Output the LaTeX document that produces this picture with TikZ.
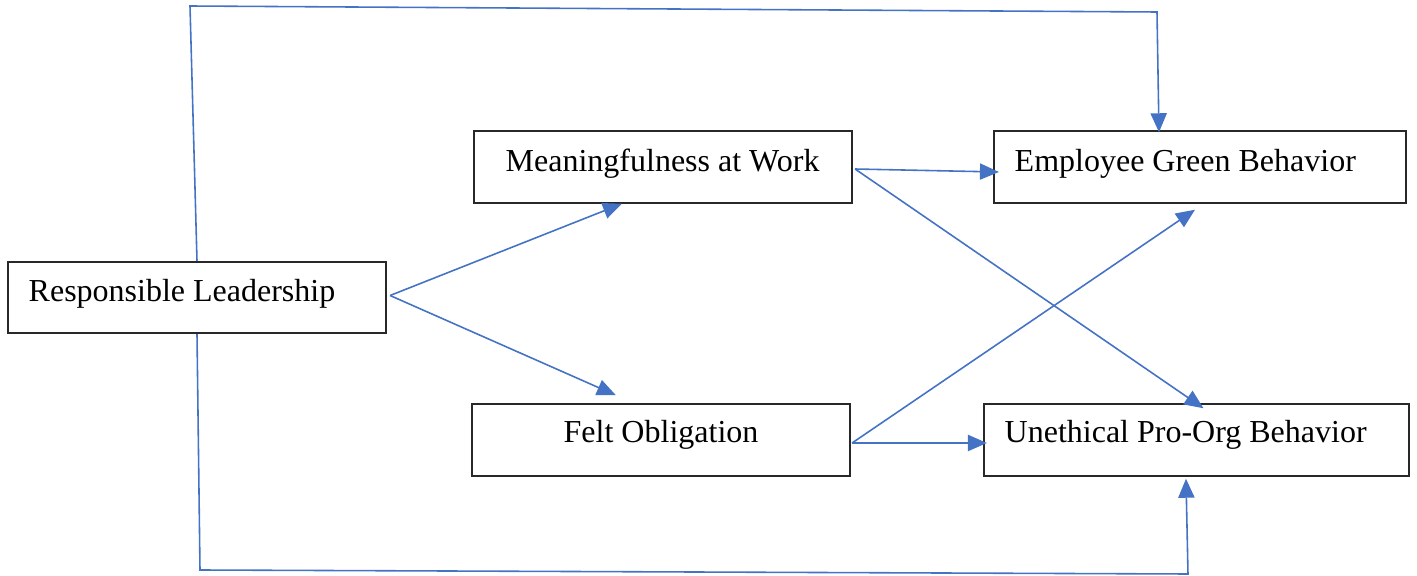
\documentclass[tikz,border=0pt]{standalone}
\usepackage{fontspec}
\setmainfont{Liberation Serif}
\usepackage{xcolor}
\usetikzlibrary{arrows.meta,calc}
\definecolor{linkblue}{RGB}{68,114,196}
\definecolor{boxgray}{RGB}{40,40,40}

\begin{document}
\begin{tikzpicture}[x=0.01cm,y=-0.01cm,
		varbox/.style={draw=boxgray,line width=0.55pt,inner sep=0pt,minimum height=0.715cm},
		varlabel/.style={anchor=base west,inner sep=0pt,font=\fontsize{9.1}{11}\selectfont},
		link/.style={draw=linkblue,line width=0.45pt},
		arrowlink/.style={link,-{Triangle[length=5.4pt,width=4.6pt]}}]
				\useasboundingbox (0,0) rectangle (1417,576);
				% boxes
				\node[varbox,minimum width=3.78cm] (rl) at (197,297.5) {};
				\node[varbox,minimum width=3.78cm] (mw) at (663,167) {};
				\node[varbox,minimum width=3.78cm] (fo) at (661,440) {};
				\node[varbox,minimum width=4.12cm] (egb) at (1200,167) {};
				\node[varbox,minimum width=4.25cm] (upb) at (1196.5,440) {};
				\node[varlabel] (rltext) at (28,302) {Responsible Leadership};
				\node[varlabel] (mwtext) at (505,172) {Meaningfulness at Work};
				\node[varlabel] (fotext) at (563,443) {Felt Obligation};
				\node[varlabel] (egbtext) at (1014,172) {Employee Green Behavior};
				\node[varlabel] (upbtext) at (1004,443) {Unethical Pro-Org Behavior};
				% direct paths round the outside
				\coordinate (topleft) at (190,6);
				\coordinate (topright) at (1157,12);
				\coordinate (botleft) at (200,570);
				\coordinate (botright) at (1188,574);
				\draw[arrowlink] (rl.north) -- (topleft) -- (topright) -- ($(topright |- egb.north)+(2,2)$);
				\draw[arrowlink] (rl.south) -- (botleft) -- (botright) -- ($(botright |- upb.south)+(-2,2)$);
				% mediators
				\coordinate (rlout) at ($(rl.east)+(3,-2)$);
				\draw[arrowlink] (rlout) -- ($(mw.south west)+(149,0)$);
				\draw[arrowlink] (rlout) -- ($(fo.north west)+(145,-8)$);
				\coordinate (mwout) at ($(mw.east)+(2,2)$);
				\draw[arrowlink] (mwout) -- ($(egb.west)+(6,5)$);
				\draw[arrowlink] (mwout) -- ($(upb.north)+(7,5)$);
				\coordinate (foout) at ($(fo.east)+(1,3)$);
				\draw[arrowlink] (foout) -- ($(egb.south)+(-5,6)$);
				\draw[arrowlink] (foout) -- ($(upb.west)+(4,3)$);
			\end{tikzpicture}
\end{document}
